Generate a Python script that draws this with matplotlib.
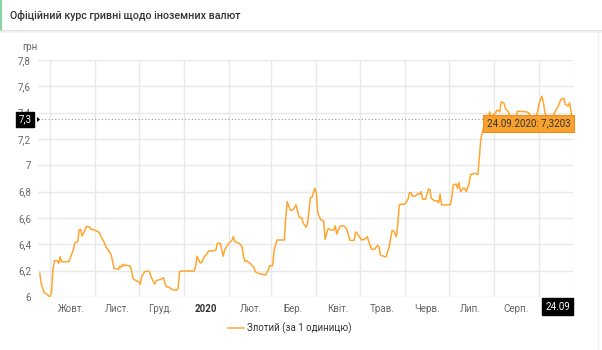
import math

import matplotlib
matplotlib.use("Agg")
import matplotlib.pyplot as plt
from matplotlib.lines import Line2D
from matplotlib.patches import Polygon
import pandas as pd

plt.rcParams["font.family"] = ["Roboto", "DejaVu Sans"]

title = "Офіційний курс гривні щодо іноземних валют"
series_name = "Злотий (за 1 одиницю)"
unit = "грн"

# PLN/UAH official rate, Sep 2019 - Sep 2020
dates = [
    "2019-09-24", "2019-09-25", "2019-09-26", "2019-09-27", "2019-09-29", "2019-09-30",
    "2019-10-01", "2019-10-02", "2019-10-03", "2019-10-04", "2019-10-06", "2019-10-07",
    "2019-10-08", "2019-10-09", "2019-10-14", "2019-10-17", "2019-10-18", "2019-10-20",
    "2019-10-21", "2019-10-22", "2019-10-23", "2019-10-24", "2019-10-26", "2019-10-28",
    "2019-10-29", "2019-10-31", "2019-11-03", "2019-11-04", "2019-11-05", "2019-11-07",
    "2019-11-09", "2019-11-10", "2019-11-12", "2019-11-14", "2019-11-17", "2019-11-18",
    "2019-11-19", "2019-11-20", "2019-11-21", "2019-11-22", "2019-11-25", "2019-11-26",
    "2019-11-27", "2019-11-29", "2019-12-01", "2019-12-02", "2019-12-03", "2019-12-05",
    "2019-12-08", "2019-12-10", "2019-12-11", "2019-12-12", "2019-12-13", "2019-12-16",
    "2019-12-17", "2019-12-18", "2019-12-19", "2019-12-20", "2019-12-22", "2019-12-23",
    "2019-12-25", "2019-12-27", "2019-12-28", "2019-12-29", "2019-12-30", "2020-01-08",
    "2020-01-09", "2020-01-10", "2020-01-12", "2020-01-13", "2020-01-15", "2020-01-17",
    "2020-01-18", "2020-01-21", "2020-01-23", "2020-01-24", "2020-01-26", "2020-01-28",
    "2020-01-29", "2020-01-31", "2020-02-02", "2020-02-03", "2020-02-04", "2020-02-05",
    "2020-02-08", "2020-02-10", "2020-02-11", "2020-02-12", "2020-02-13", "2020-02-16",
    "2020-02-18", "2020-02-19", "2020-02-21", "2020-02-24", "2020-02-26", "2020-02-28",
    "2020-02-29", "2020-03-02", "2020-03-03", "2020-03-05", "2020-03-10", "2020-03-11",
    "2020-03-12", "2020-03-14", "2020-03-16", "2020-03-18", "2020-03-20", "2020-03-22",
    "2020-03-23", "2020-03-25", "2020-03-26", "2020-03-28", "2020-03-29", "2020-03-31",
    "2020-04-01", "2020-04-02", "2020-04-04", "2020-04-06", "2020-04-07", "2020-04-09",
    "2020-04-11", "2020-04-13", "2020-04-14", "2020-04-15", "2020-04-17", "2020-04-18",
    "2020-04-20", "2020-04-22", "2020-04-24", "2020-04-27", "2020-04-28", "2020-04-29",
    "2020-05-02", "2020-05-04", "2020-05-06", "2020-05-07", "2020-05-09", "2020-05-11",
    "2020-05-13", "2020-05-14", "2020-05-15", "2020-05-18", "2020-05-19", "2020-05-21",
    "2020-05-23", "2020-05-24", "2020-05-26", "2020-05-27", "2020-05-28", "2020-05-30",
    "2020-06-01", "2020-06-03", "2020-06-04", "2020-06-05", "2020-06-06", "2020-06-08",
    "2020-06-10", "2020-06-11", "2020-06-12", "2020-06-13", "2020-06-15", "2020-06-17",
    "2020-06-18", "2020-06-19", "2020-06-21", "2020-06-23", "2020-06-24", "2020-06-25",
    "2020-06-26", "2020-07-02", "2020-07-03", "2020-07-04", "2020-07-06", "2020-07-07",
    "2020-07-08", "2020-07-09", "2020-07-11", "2020-07-12", "2020-07-13", "2020-07-15",
    "2020-07-16", "2020-07-19", "2020-07-21", "2020-07-22", "2020-07-23", "2020-07-25",
    "2020-07-27", "2020-07-28", "2020-07-29", "2020-07-30", "2020-07-31", "2020-08-02",
    "2020-08-03", "2020-08-05", "2020-08-06", "2020-08-08", "2020-08-09", "2020-08-11",
    "2020-08-12", "2020-08-14", "2020-08-16", "2020-08-17", "2020-08-19", "2020-08-23",
    "2020-08-25", "2020-08-27", "2020-08-29", "2020-08-31", "2020-09-01", "2020-09-03",
    "2020-09-04", "2020-09-05", "2020-09-07", "2020-09-09", "2020-09-12", "2020-09-14",
    "2020-09-16", "2020-09-18", "2020-09-19", "2020-09-21", "2020-09-22", "2020-09-23",
    "2020-09-24",
]
rates = [
    6.180, 6.100, 6.066, 6.033, 6.020, 6.008,
    6.005, 6.030, 6.205, 6.276, 6.276, 6.256,
    6.306, 6.268, 6.268, 6.357, 6.410, 6.420,
    6.510, 6.514, 6.463, 6.484, 6.534, 6.534,
    6.514, 6.510, 6.496, 6.488, 6.458, 6.420,
    6.370, 6.357, 6.320, 6.218, 6.210, 6.235,
    6.226, 6.250, 6.235, 6.243, 6.235, 6.205,
    6.140, 6.124, 6.116, 6.096, 6.154, 6.192,
    6.197, 6.140, 6.116, 6.099, 6.124, 6.134,
    6.140, 6.147, 6.104, 6.078, 6.074, 6.063,
    6.053, 6.053, 6.066, 6.192, 6.197, 6.197,
    6.230, 6.310, 6.260, 6.260, 6.306, 6.330,
    6.350, 6.350, 6.357, 6.408, 6.408, 6.310,
    6.357, 6.395, 6.420, 6.430, 6.458, 6.420,
    6.408, 6.382, 6.306, 6.268, 6.276, 6.250,
    6.226, 6.192, 6.180, 6.172, 6.167, 6.205,
    6.238, 6.238, 6.357, 6.433, 6.433, 6.610,
    6.724, 6.660, 6.660, 6.700, 6.610, 6.600,
    6.560, 6.530, 6.564, 6.757, 6.757, 6.826,
    6.787, 6.640, 6.585, 6.580, 6.438, 6.520,
    6.509, 6.509, 6.540, 6.478, 6.534, 6.540,
    6.540, 6.514, 6.430, 6.430, 6.494, 6.484,
    6.433, 6.438, 6.458, 6.420, 6.362, 6.362,
    6.393, 6.382, 6.319, 6.306, 6.306, 6.382,
    6.504, 6.504, 6.458, 6.560, 6.700, 6.706,
    6.706, 6.742, 6.792, 6.792, 6.767, 6.767,
    6.787, 6.780, 6.800, 6.742, 6.742, 6.818,
    6.818, 6.750, 6.731, 6.731, 6.716, 6.782,
    6.700, 6.700, 6.750, 6.850, 6.858, 6.826,
    6.868, 6.800, 6.826, 6.826, 6.800, 6.864,
    6.930, 6.940, 6.930, 7.060, 7.200, 7.293,
    7.310, 7.330, 7.407, 7.370, 7.380, 7.395,
    7.420, 7.407, 7.483, 7.470, 7.430, 7.407,
    7.370, 7.340, 7.340, 7.410, 7.410, 7.407,
    7.400, 7.340, 7.340, 7.407, 7.470, 7.525,
    7.475, 7.407, 7.340, 7.340, 7.407, 7.445,
    7.500, 7.510, 7.464, 7.450, 7.475, 7.410,
    7.3203,
]

month_starts = ["2019-10-01", "2019-11-01", "2019-12-01", "2020-01-01", "2020-02-01",
                "2020-03-01", "2020-04-01", "2020-05-01", "2020-06-01", "2020-07-01",
                "2020-08-01", "2020-09-01"]
month_labels = ["Жовт.", "Лист.", "Груд.", "2020", "Лют.", "Бер.", "Квіт.", "Трав.",
                "Черв.", "Лип.", "Серп."]
y_ticks = [6.0, 6.2, 6.4, 6.6, 6.8, 7.0, 7.2, 7.4, 7.6, 7.8]
cursor_value = 7.352

W, H = 602, 350
line_color = "#FFA630"
grid_color = "#e8e8e8"
label_color = "#666666"

x = pd.to_datetime(dates)
starts = pd.to_datetime(month_starts)

fig = plt.figure(figsize=(W / 100, H / 100), dpi=100)


def fx(px):
    return px / W


def fy(py):
    return 1 - py / H


def comma(s):
    return s.replace(".", ",")


ax = fig.add_axes([fx(38), fy(297), fx(573) - fx(38), fy(60) - fy(297)])
ax.plot(x, rates, color=line_color, lw=1.1, label=series_name, zorder=3,
        solid_joinstyle="round")

ax.set_xlim(x[0] - pd.Timedelta(hours=30), x[-1] + pd.Timedelta(hours=8))
ax.set_ylim(6.0, 7.8)
for s in ax.spines.values():
    s.set_visible(False)

ax.set_yticks(y_ticks)
ax.set_yticklabels([comma(f"{v:g}") for v in y_ticks])
ax.tick_params(axis="y", length=0, pad=5, labelsize=7, labelcolor=label_color)
ax.yaxis.grid(True, color=grid_color, lw=1)

# month gridlines on the minor ticks, month names between them
ax.set_xticks(starts, minor=True)
ax.xaxis.grid(True, which="minor", color=grid_color, lw=1)
ax.set_xticks(starts[:-1] + pd.Timedelta(days=15))
ax.set_xticklabels(month_labels)
ax.tick_params(axis="x", which="both", length=0, pad=5, labelsize=7,
               labelcolor=label_color)
for lbl in ax.get_xticklabels():
    if lbl.get_text() == "2020":
        lbl.set_fontweight("bold")
        lbl.set_color("#333333")

# crosshair
ax.axhline(cursor_value, color="#999999", lw=0.8, ls=(0, (1, 2)), zorder=2)
ax.axvline(x[-1], color="#aaaaaa", lw=0.8, ls=(0, (1, 2)), zorder=2)

cursor_label = comma(f"{math.floor(cursor_value * 10) / 10:.1f}")
fig.text(fx(25), fy(119.5), cursor_label, color="white",
         fontsize=7, ha="center", va="center", zorder=5,
         bbox=dict(boxstyle="square,pad=0.3", fc="black", ec="black"))
fig.add_artist(Polygon([[fx(37), fy(117)], [fx(40), fy(119.5)], [fx(37), fy(122)]],
                       closed=True, fc="black", ec="none", transform=fig.transFigure))

fig.text(fx(557.5), fy(306.5), x[-1].strftime("%d.%m"), color="white", fontsize=7,
         ha="center", va="center",
         bbox=dict(boxstyle="square,pad=0.35", fc="black", ec="black"))

# tooltip on the last point
tip = f"{x[-1]:%d.%m.%Y}: " + comma(f"{rates[-1]:.4f}")
fig.text(fx(528.5), fy(123.5), tip, color="#333333", fontsize=7, ha="center",
         va="center",
         bbox=dict(boxstyle="square,pad=0.4", fc="#F9A12E", ec="#E8901E", lw=0.8))
fig.add_artist(Polygon([[fx(570), fy(119)], [fx(574), fy(122)], [fx(570), fy(125)]],
                       closed=True, fc="#F9A12E", ec="none", transform=fig.transFigure))

fig.text(fx(22), fy(47), unit, color=label_color, fontsize=7, ha="left", va="center")

# header
fig.text(fx(10), fy(15.5), title, color="#333333", fontsize=7.7, fontweight="medium",
         ha="left", va="center")
fig.add_artist(Line2D([fx(0.8), fx(0.8)], [fy(0), fy(30)], color="#86d3a3", lw=1.6,
                      transform=fig.transFigure))
fig.add_artist(Line2D([0, 1], [fy(31), fy(31)], color="#dedede", lw=1.2,
                      transform=fig.transFigure))
fig.add_artist(Line2D([0, 1], [fy(32.3), fy(32.3)], color="#f1f1f1", lw=1.2,
                      transform=fig.transFigure))
fig.add_artist(Line2D([fx(598), fx(598)], [fy(33), 0], color="#eeeeee", lw=1,
                      transform=fig.transFigure))

fig.legend(loc="center", bbox_to_anchor=(fx(290), fy(328)), frameon=False,
           fontsize=7, handlelength=1.6, handletextpad=0.4, labelcolor="#333333")

fig.savefig("out.png", dpi=100)
